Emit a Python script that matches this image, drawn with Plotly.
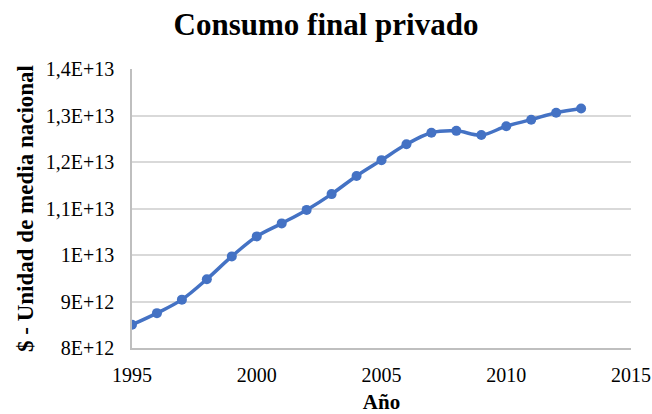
import plotly.graph_objects as go

# Private final consumption, national currency units
years = [1995, 1996, 1997, 1998, 1999, 2000, 2001, 2002, 2003, 2004,
         2005, 2006, 2007, 2008, 2009, 2010, 2011, 2012, 2013]
consumo = [8.50e12, 8.75e12, 9.04e12, 9.48e12, 9.97e12, 10.40e12, 10.68e12,
           10.97e12, 11.31e12, 11.70e12, 12.04e12, 12.38e12, 12.63e12,
           12.67e12, 12.58e12, 12.77e12, 12.91e12, 13.06e12, 13.15e12]

y_tickvals = [8e12, 9e12, 1e13, 1.1e13, 1.2e13, 1.3e13, 1.4e13]
y_ticktext = ["8E+12", "9E+12", "1E+13", "1,1E+13", "1,2E+13", "1,3E+13", "1,4E+13"]
x_tickvals = [1995, 2000, 2005, 2010, 2015]

BLUE = "#4472C4"
SERIF = "Liberation Serif, Times New Roman, serif"

fig = go.Figure()
fig.add_trace(go.Scatter(
    x=years, y=consumo, mode="lines+markers",
    line=dict(color=BLUE, width=3.5, shape="spline", smoothing=1.0),
    marker=dict(color=BLUE, size=10),
    showlegend=False,
))

fig.update_layout(
    width=652, height=414,
    margin=dict(l=132, r=21, t=69, b=66),
    paper_bgcolor="white", plot_bgcolor="white",
    font=dict(family=SERIF, color="black", size=20),
    title=dict(text="<b>Consumo final privado</b>", x=0.5, xanchor="center",
               y=1 - 24 / 414, yanchor="middle", yref="container",
               font=dict(family=SERIF, size=31, color="black")),
)

fig.update_xaxes(
    range=[1995, 2015], tickvals=x_tickvals, automargin=False,
    showgrid=False, zeroline=False,
    showline=True, linecolor="#BFBFBF", linewidth=1.5,
    ticks="outside", ticklen=8, tickcolor="rgba(0,0,0,0)",
    tickfont=dict(family=SERIF, size=20, color="black"),
    title=dict(text="<b>Año</b>", standoff=14,
               font=dict(family=SERIF, size=21, color="black")),
)
fig.update_yaxes(
    range=[8e12, 1.4e13], tickvals=y_tickvals, ticktext=y_ticktext,
    automargin=False,
    showgrid=True, gridcolor="#D9D9D9", gridwidth=1.5, zeroline=False,
    showline=True, linecolor="#BFBFBF", linewidth=1.5,
    ticks="outside", ticklen=12, tickcolor="rgba(0,0,0,0)",
    tickfont=dict(family=SERIF, size=20, color="black"),
    title=dict(text="<b>$ - Unidad de media nacional</b>", standoff=6,
               font=dict(family=SERIF, size=23, color="black")),
)

fig.write_html("out.html")
